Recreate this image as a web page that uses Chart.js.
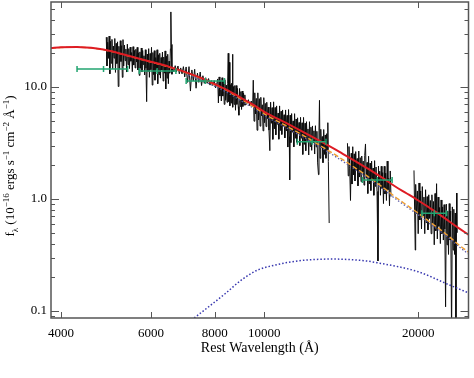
<!DOCTYPE html>
<html lang="en">
<head>
<meta charset="UTF-8">
<title>Spectral energy distribution fit</title>
<script src="https://cdn.jsdelivr.net/npm/chart.js@4.4.0/dist/chart.umd.min.js"></script>
<style>
  body { margin: 0; background: #fff; }
  #wrap { width: 474px; height: 378px; }
</style>
</head>
<body>
<div id="wrap"><canvas id="sed" width="474" height="378"></canvas></div>
<script>
// axis ticks
const xTickValues = [4000, 6000, 8000, 10000, 20000];
const xTickLabels = ['4000', '6000', '8000', '10000', '20000'];
const yTickValues = [0.1, 1, 10];
const yTickLabels = ['0.1', '1.0', '10.0'];
const yMinorValues = [0.09, 0.2, 0.3, 0.4, 0.5, 0.6, 0.7, 0.8, 0.9, 2, 3, 4, 5, 6, 7, 8, 9, 20, 30, 40, 50];

// model curves (rest wavelength in A, flux in 1e-16 erg/s/cm2/A)
const modelWave = [3825, 4000, 4300, 4700, 5000, 5445, 6000, 6500, 7100, 7600, 8000, 8500, 9000, 9500, 10000, 11000, 12000, 13000, 14000, 15000, 16000, 17000, 18000, 19000, 20000, 21000, 22000, 23000, 24000, 25080];
const modelTotal = [22.3, 22.6, 22.8, 22.1, 21.0, 18.9, 16.8, 15.2, 13.3, 11.8, 10.6, 9.3, 8.0, 6.95, 6.0, 4.8, 3.9, 3.2, 2.65, 2.2, 1.85, 1.55, 1.3, 1.12, 0.97, 0.84, 0.73, 0.63, 0.55, 0.48];
const modelHot = [22.2, 22.5, 22.7, 22.0, 20.9, 18.8, 16.7, 15.1, 13.2, 11.7, 10.48, 9.15, 7.81, 6.73, 5.76, 4.53, 3.62, 2.91, 2.36, 1.915, 1.57, 1.285, 1.05, 0.88, 0.746, 0.63, 0.54, 0.46, 0.39, 0.335];
const hotAltWave = [7100, 7600, 8000, 8500, 9000, 9500, 10000, 11000, 12000, 13000, 14000, 15000, 16000, 17000, 18000, 19000, 20000, 21000, 22000, 23000, 24000, 25080];
const hotAltFlux = [12.75, 11.3, 10.1, 8.83, 7.54, 6.5, 5.56, 4.37, 3.49, 2.81, 2.28, 1.85, 1.515, 1.24, 1.013, 0.85, 0.72, 0.608, 0.521, 0.444, 0.376, 0.323];
const coolWave = [7200, 7800, 8400, 9000, 9700, 10500, 11300, 12200, 13500, 15700, 16600, 20000, 23000, 25080];
const coolFlux = [0.083, 0.11, 0.144, 0.188, 0.232, 0.257, 0.275, 0.286, 0.291, 0.281, 0.27, 0.224, 0.171, 0.145];

// photometry with band widths
const bandLo = [4301, 5692, 7031, 11600, 15550, 20330];
const bandMid = [4846, 6169, 7664, 12400, 16630, 21500];
const bandHi = [5402, 6714, 8356, 13200, 17780, 22730];
const bandFlux = [14.5, 13.9, 11.3, 3.25, 1.48, 0.745];

// observed spectrum, three pieces
const specOpt = [
  [4906, 27.8], [4922, 15.4], [4938, 25.1], [4954, 18.0], [4970, 28.5], [4986, 13.1], [5002, 25.6], [5018, 16.3], [5034, 26.6], [5050, 14.5], [5066, 23.2], [5082, 18.1], [5098, 27.1], [5114, 13.5], [5130, 24.5], [5146, 16.2], [5162, 25.3], [5178, 10.1], [5194, 23.1], [5210, 14.4], [5226, 25.9], [5242, 16.9], [5258, 23.4], [5274, 12.2], [5290, 26.5],
  [5307, 15.4], [5325, 23.7], [5342, 17.2], [5360, 21.8], [5377, 13.6], [5395, 24.1], [5412, 15.8], [5430, 22.0], [5447, 14.6], [5465, 22.7], [5482, 17.0], [5500, 20.3], [5517, 13.7], [5535, 22.9], [5552, 15.7], [5570, 21.2], [5587, 14.8], [5605, 21.7], [5622, 16.7], [5640, 22.6], [5657, 14.2], [5675, 20.2], [5692, 12.7], [5710, 20.6], [5727, 14.7], [5745, 22.3], [5762, 13.6], [5780, 21.2], [5797, 15.9], [5815, 19.0], [5832, 12.8], [5850, 21.5], [5867, 14.7], [5885, 7.4], [5902, 19.7], [5920, 13.8],
  [5939, 22.0], [5958, 12.2], [5977, 19.9], [5996, 14.3], [6015, 22.6], [6034, 10.4], [6053, 20.3], [6072, 12.9], [6091, 21.1], [6110, 11.5], [6129, 18.3], [6148, 14.3], [6167, 21.5], [6186, 10.7], [6205, 19.4], [6224, 12.9], [6243, 20.0], [6262, 12.0], [6281, 18.3], [6300, 14.2], [6319, 20.5], [6338, 11.3], [6357, 18.5], [6376, 13.3], [6395, 21.0], [6414, 9.6], [6433, 18.8], [6452, 12.0], [6471, 19.6], [6490, 10.7], [6509, 17.0], [6528, 13.3],
  [6550, 22], [6563, 46.8], [6576, 24], [6595, 13.0], [6610, 15.0],
  [6650, 13.7], [6692, 15.5], [6734, 13.7], [6776, 15.4], [6818, 13.1], [6860, 14.8], [6902, 13.1], [6944, 15.2], [6986, 12.3],
  [7030, 15.1], [7076, 11.0], [7122, 15.2], [7168, 9.2], [7214, 14.2], [7260, 11.3], [7306, 14.4], [7352, 9.75], [7398, 13.3], [7444, 11.0], [7490, 13.6], [7536, 10.3], [7582, 12.6], [7628, 10.8],
  [7678, 12.1], [7728, 10.8], [7778, 11.9], [7828, 10.4], [7878, 11.4], [7928, 10.3], [7978, 11.4], [8028, 9.8], [8078, 10.9],
  [8105, 11.8], [8130, 7.2], [8157, 12.3], [8184, 8.3], [8211, 11.3], [8238, 7.5], [8265, 12.1], [8292, 8.3], [8319, 11.2], [8346, 7.0], [8373, 11.6], [8400, 7.6], [8427, 10.4], [8454, 7.3], [8476, 10.8], [8498, 20.0], [8520, 7.4], [8542, 16.6], [8561, 6.8], [8580, 10.5], [8605, 7.2], [8630, 10.8], [8646, 7.6], [8662, 19.6], [8681, 6.6], [8700, 10.1], [8727, 7.0], [8754, 10.3], [8781, 6.2], [8808, 10.3], [8835, 7.0], [8862, 9.7], [8889, 6.7], [8916, 5.6], [8943, 9.7], [8970, 6.7], [8997, 9.1], [9024, 6.3], [9051, 9.2], [9078, 6.7], [9105, 8.8], [9132, 6.9], [9159, 8.5], [9186, 6.9],
  [9246, 7.1], [9306, 7.7], [9366, 6.8], [9426, 7.5], [9486, 6.7],
  [9513, 11.5], [9545, 4.95], [9578, 8.87], [9611, 5.74], [9644, 7.91], [9677, 4.11], [9710, 8.87], [9743, 5.07], [9776, 7.87], [9809, 4.47], [9842, 8.09], [9875, 5.52], [9908, 6.94], [9941, 4.06], [9974, 8.03], [10007, 4.8],
  [10041, 7.14], [10075, 4.43], [10109, 7.31], [10143, 5.22], [10177, 6.62], [10211, 4.12], [10250, 2.7], [10285, 7.32], [10320, 4.74], [10355, 6.54], [10390, 3.41], [10425, 7.37], [10460, 4.23], [10495, 6.56], [10530, 3.74], [10566, 6.78], [10602, 4.63], [10638, 5.85], [10674, 3.42], [10710, 6.78], [10746, 4.08], [10782, 6.07], [10818, 3.77], [10855, 6.24], [10892, 4.46], [10929, 5.65], [10966, 3.51],
  [11003, 6.24], [11040, 4.05], [11077, 5.58], [11114, 2.91], [11151, 6.29], [11188, 3.61], [11209, 1.48], [11230, 5.6], [11268, 3.19], [11306, 5.79], [11344, 3.94], [11382, 4.98], [11420, 2.92], [11458, 5.78], [11497, 3.48], [11536, 5.18], [11575, 3.21], [11614, 5.31], [11653, 3.8], [11692, 4.82], [11731, 3.0], [11770, 5.36], [11810, 3.48], [11850, 4.79], [11890, 2.5], [11930, 5.35], [11970, 3.07],
  [12010, 4.75], [12050, 2.7], [12090, 4.9], [12130, 3.34], [12171, 4.22], [12212, 2.47], [12253, 4.9], [12294, 2.94], [12335, 4.38], [12376, 2.72], [12418, 4.49], [12460, 3.2], [12502, 4.06], [12544, 2.52], [12586, 4.51], [12628, 2.92], [12670, 4.02], [12712, 2.1], [12760, 1.65], [12790, 4.09], [12818, 7.6], [12850, 2.31], [12893, 4.19], [12936, 2.86], [12979, 3.61],
  [13022, 2.11], [13066, 4.17], [13110, 2.5], [13154, 3.73], [13198, 2.31], [13242, 3.83], [13286, 2.73], [13310, 4.8], [13340, 2.16], [13390, 0.61]
];
const specH = [
  [14540, 3.15], [14590, 1.61], [14640, 2.94], [14690, 1.86], [14740, 0.97], [14790, 2.56], [14840, 1.36], [14890, 2.93], [14940, 1.64], [14990, 2.53], [15040, 1.45], [15090, 2.65], [15140, 1.81], [15190, 2.3], [15245, 1.31], [15300, 2.68], [15350, 1.57], [15400, 2.34], [15455, 1.43], [15505, 2.42], [15560, 1.72], [15610, 2.18], [15665, 1.33], [15715, 2.44], [15770, 3.1], [15825, 1.53], [15880, 2.12], [15935, 1.12], [15990, 2.41],
  [16045, 1.36], [16100, 2.09], [16155, 1.19], [16210, 2.18], [16265, 1.49], [16320, 1.89], [16375, 1.08], [16430, 2.2], [16485, 1.29], [16540, 1.93], [16610, 1.17], [16680, 0.28], [16720, 1.97], [16760, 1.4], [16815, 1.77], [16870, 1.08], [16930, 1.96], [16985, 1.24],
  [17040, 1.72], [17100, 0.91], [17160, 1.96], [17215, 1.11], [17270, 1.7], [17330, 0.97], [17390, 2.18], [17450, 1.21], [17510, 1.53], [17570, 0.87], [17630, 1.78], [17690, 1.05]
];
const specK = [
  [19620, 1.8], [19695, 0.61], [19730, 0.35], [19770, 1.35], [19845, 0.74], [19920, 1.18], [19995, 0.49], [20070, 1.39], [20145, 0.65], [20220, 1.18], [20295, 0.54], [20370, 1.29], [20445, 0.71], [20520, 1.04], [20595, 0.49], [20670, 1.21], [20745, 0.61], [20820, 1.05], [20895, 0.53], [20970, 1.09],
  [21045, 0.67], [21120, 0.97], [21195, 0.49], [21270, 1.09], [21345, 0.6], [21420, 0.95], [21495, 0.39], [21570, 1.12], [21645, 0.52], [21720, 1.37], [21795, 0.44], [21870, 1.04], [21945, 0.57],
  [22020, 0.84], [22095, 0.4], [22170, 0.98], [22245, 0.49], [22320, 0.85], [22395, 0.43], [22470, 0.89], [22545, 0.54], [22620, 0.109], [22695, 0.9], [22770, 0.39], [22845, 0.78], [22920, 0.32], [22995, 0.91],
  [23070, 0.43], [23145, 0.78], [23240, 0.06], [23320, 0.85], [23400, 0.35], [23475, 0.81], [23550, 0.32], [23625, 0.75], [23700, 0.058], [23770, 1.13], [23800, 0.5]
];

Chart.defaults.font.family = "'Liberation Serif', 'Times New Roman', serif";
Chart.defaults.color = '#000';

function toPoints(xs, ys) {
  return xs.map((x, i) => ({ x: x, y: ys[i] }));
}
function pairPoints(arr) {
  return arr.map(p => ({ x: p[0], y: p[1] }));
}

const green = 'rgb(34,164,112)';
const bandSets = bandFlux.map((f, i) => ({
  data: [{ x: bandLo[i], y: f }, { x: bandMid[i], y: f }, { x: bandHi[i], y: f }],
  showLine: true,
  borderColor: green,
  borderWidth: 1.5,
  pointStyle: 'line',
  rotation: 90,
  pointRadius: 3,
  pointBorderWidth: 1.5,
  pointBorderColor: green
}));

function curve(data, color, width, dash) {
  return {
    data: data,
    showLine: true,
    borderColor: color,
    borderWidth: width,
    borderDash: dash || [],
    pointRadius: 0,
    cubicInterpolationMode: 'monotone'
  };
}
function spectrum(data) {
  return { data: data, showLine: true, borderColor: 'rgb(12,12,12)', borderWidth: 1, pointRadius: 0 };
}

// pin the plot box, then draw the frame with inward ticks on all four sides
const PLOT_TOP = 2;
const framePlugin = {
  id: 'frame',
  afterLayout(chart) {
    const a = chart.chartArea, y = chart.scales.y;
    a.top = PLOT_TOP;
    a.height = a.bottom - a.top;
    y.top = PLOT_TOP;
    y.height = y.bottom - y.top;
    y.configure();
  },
  afterDatasetsDraw(chart) {
    const { ctx, chartArea: a, scales } = chart;
    const x = scales.x, y = scales.y;
    ctx.save();
    ctx.strokeStyle = '#555';
    ctx.lineWidth = 1;
    ctx.beginPath();
    xTickValues.forEach(v => {
      const px = Math.round(x.getPixelForValue(v)) + 0.5;
      ctx.moveTo(px, a.bottom); ctx.lineTo(px, a.bottom - 6);
      ctx.moveTo(px, a.top); ctx.lineTo(px, a.top + 6);
    });
    yTickValues.forEach(v => {
      const py = Math.round(y.getPixelForValue(v)) + 0.5;
      ctx.moveTo(a.left, py); ctx.lineTo(a.left + 8, py);
      ctx.moveTo(a.right, py); ctx.lineTo(a.right - 8, py);
    });
    yMinorValues.forEach(v => {
      const py = Math.round(y.getPixelForValue(v)) + 0.5;
      ctx.moveTo(a.left, py); ctx.lineTo(a.left + 4, py);
      ctx.moveTo(a.right, py); ctx.lineTo(a.right - 4, py);
    });
    ctx.stroke();
    ctx.lineWidth = 1.5;
    ctx.strokeRect(a.left, a.top, a.right - a.left, a.bottom - a.top);
    ctx.restore();
  }
};

// y title with sub/superscripts
const yTitlePlugin = {
  id: 'yTitle',
  afterDraw(chart) {
    const ctx = chart.ctx;
    const parts = [['f', 13, 0], ['\u03bb', 9, 3.5], [' (10', 13, 0], ['\u221216', 9, -5], [' ergs s', 13, 0], ['\u22121', 9, -5],
      [' cm', 13, 0], ['\u22122', 9, -5], [' \u00c5', 13, 0], ['\u22121', 9, -5], [')', 13, 0]];
    const fam = Chart.defaults.font.family;
    ctx.save();
    ctx.fillStyle = '#000';
    ctx.textBaseline = 'alphabetic';
    let total = 0;
    parts.forEach(p => { ctx.font = p[1] + 'px ' + fam; total += ctx.measureText(p[0]).width; });
    ctx.translate(10, 166);
    ctx.rotate(-Math.PI / 2);
    let cx = -total / 2;
    parts.forEach(p => {
      ctx.font = p[1] + 'px ' + fam;
      ctx.fillText(p[0], cx, 4 + p[2]);
      cx += ctx.measureText(p[0]).width;
    });
    ctx.restore();
  }
};

new Chart(document.getElementById('sed'), {
  type: 'scatter',
  data: {
    datasets: [
      ...bandSets,
      curve(toPoints(modelWave, modelTotal), 'rgb(222,28,36)', 2),
      curve(toPoints(hotAltWave, hotAltFlux), 'rgb(90,90,170)', 1.2, [1.5, 2]),
      curve(toPoints(modelWave, modelHot), 'rgb(240,160,50)', 1.5, [5, 2.5]),
      curve(toPoints(coolWave, coolFlux), 'rgb(55,55,175)', 1.5, [1.5, 2]),
      spectrum(pairPoints(specOpt)),
      spectrum(pairPoints(specH)),
      spectrum(pairPoints(specK))
    ]
  },
  options: {
    responsive: false,
    animation: false,
    layout: { padding: { left: 0, top: 0, right: 2, bottom: 0 } },
    plugins: { legend: { display: false }, tooltip: { enabled: false } },
    scales: {
      x: {
        type: 'logarithmic',
        min: 3825,
        max: 25080,
        grid: { display: false, drawTicks: false },
        border: { display: false },
        ticks: {
          autoSkip: false,
          maxRotation: 0,
          padding: 8,
          font: { size: 13 },
          callback: (v, i) => xTickLabels[i]
        },
        afterBuildTicks: s => { s.ticks = xTickValues.map(v => ({ value: v })); },
        afterFit: s => { s.height = 60; s.paddingLeft = 0; s.paddingRight = 0; },
        title: {
          display: true,
          text: 'Rest Wavelength (\u00c5)',
          font: { size: 14 },
          padding: { top: 21, bottom: 21 }
        }
      },
      y: {
        type: 'logarithmic',
        min: 0.0866,
        max: 57.4,
        grid: { display: false, drawTicks: false },
        border: { display: false },
        ticks: {
          autoSkip: false,
          padding: 4,
          font: { size: 13 },
          callback: (v, i) => yTickLabels[i]
        },
        afterBuildTicks: s => { s.ticks = yTickValues.map(v => ({ value: v })); },
        afterFit: s => { s.width = 51; s.paddingTop = 0; s.paddingBottom = 0; }
      }
    }
  },
  plugins: [framePlugin, yTitlePlugin]
});
</script>
</body>
</html>
